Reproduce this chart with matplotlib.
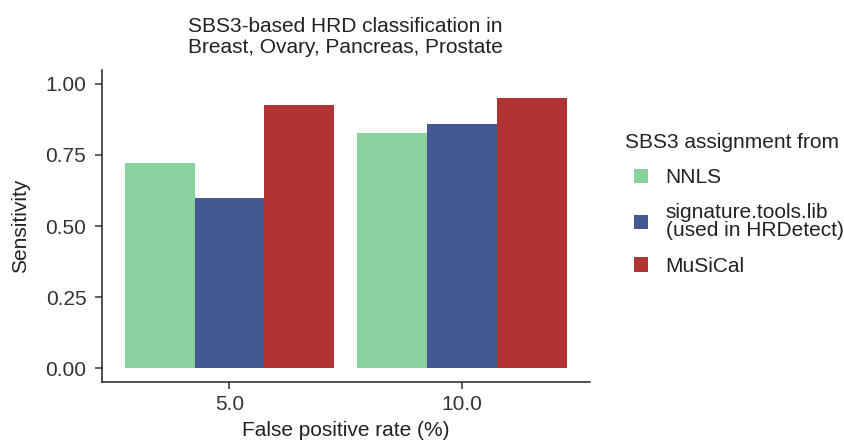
import numpy as np
import matplotlib.pyplot as plt
from matplotlib.patches import Patch

# %% data
fpr_labels = ["5.0", "10.0"]
methods = ["NNLS", "signature.tools.lib\n(used in HRDetect)", "MuSiCal"]
sens_nnls = [0.723, 0.827]
sens_stl = [0.597, 0.860]
sens_musical = [0.926, 0.950]
colors = ["#8AD29E", "#445891", "#B03435"]
yticks = [0.0, 0.25, 0.5, 0.75, 1.0]

# %% plot
plt.rcParams["font.family"] = ["Liberation Sans", "DejaVu Sans"]
fs = 15
fig = plt.figure(figsize=(8.44, 4.43), dpi=100)
ax = fig.add_axes([0.1203, 0.1366, 0.699 - 0.1203, 0.843 - 0.1366])

x = np.arange(1, len(fpr_labels) + 1)
width = 0.3
for k, (vals, col, lab) in enumerate(zip([sens_nnls, sens_stl, sens_musical], colors, methods)):
    ax.bar(x + (k - 1) * width, vals, width=width, color=col, label=lab, linewidth=0)

ax.set_xlim(1 - 0.55, 2 + 0.55)
ax.set_ylim(-0.05, 1.05)
ax.set_xticks(x)
ax.set_xticklabels(fpr_labels)
ax.set_yticks(yticks)
ax.set_yticklabels([f"{v:.2f}" for v in yticks])

for side in ["top", "right"]:
    ax.spines[side].set_visible(False)
for side in ["left", "bottom"]:
    ax.spines[side].set_linewidth(1.1)
    ax.spines[side].set_color("#222222")
ax.tick_params(axis="both", length=5, width=1.1, color="#333333",
               labelsize=fs, labelcolor="#333333")
ax.tick_params(axis="y", pad=6)
ax.tick_params(axis="x", pad=4)

ax.set_xlabel("False positive rate (%)", fontsize=fs, color="#222222", labelpad=5)
ax.set_ylabel("Sensitivity", fontsize=fs, color="#222222", labelpad=11)
ax.set_title("SBS3-based HRD classification in\nBreast, Ovary, Pancreas, Prostate",
             fontsize=fs, color="#222222", pad=12, linespacing=1.1)

# legend: title as its own text so the keys sit indented like the original
fig.text(625 / 844, 1 - 142 / 443, "SBS3 assignment from", fontsize=fs,
         color="#222222", ha="left", va="center")
handles = [Patch(facecolor=c, edgecolor="none") for c in colors]
leg = fig.legend(handles, methods, loc="upper left", bbox_to_anchor=(634 / 844, 1 - 168 / 443),
                 frameon=False, fontsize=fs, borderpad=0, borderaxespad=0,
                 handlelength=0.67, handleheight=0.67,
                 handletextpad=0.85, labelspacing=0.78)
for t in leg.get_texts():
    t.set_color("#222222")
    t.set_linespacing(0.95)

fig.savefig("out.png", dpi=100)
